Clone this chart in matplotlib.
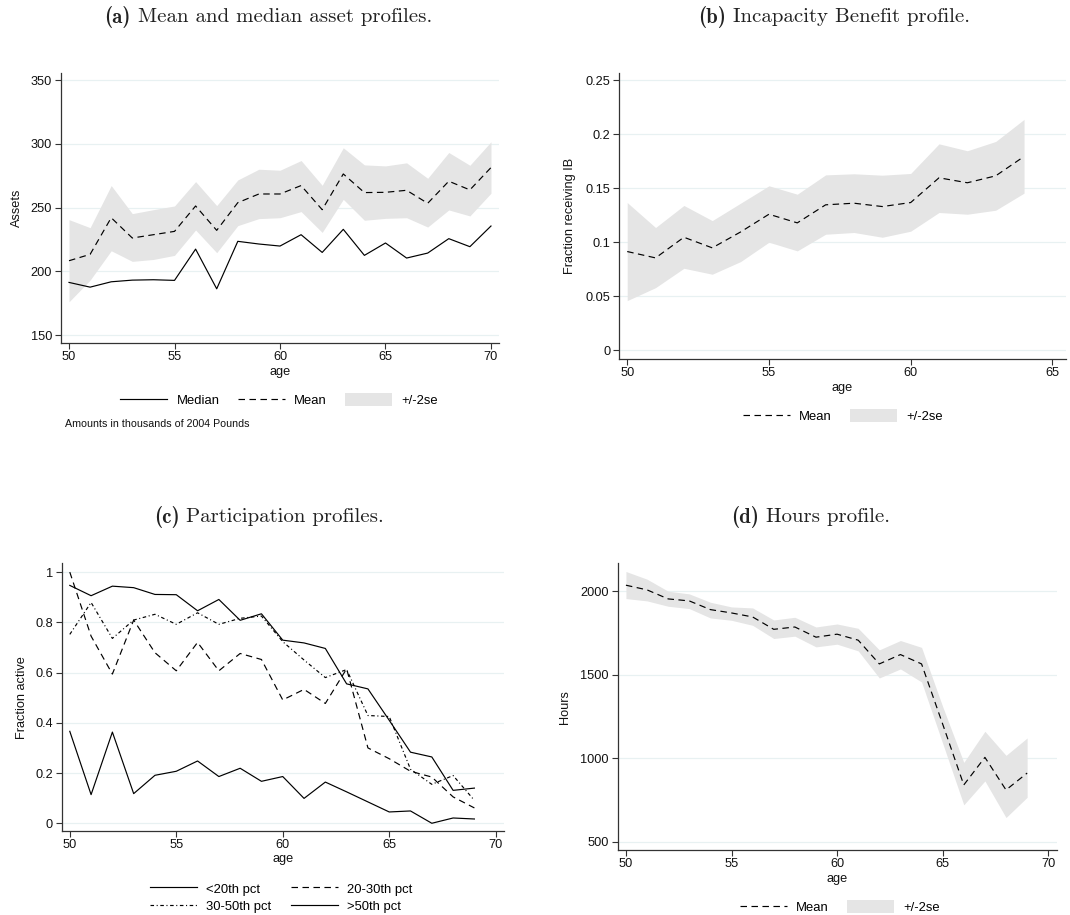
import matplotlib
matplotlib.use("Agg")
import matplotlib.pyplot as plt
from matplotlib.lines import Line2D
from matplotlib.patches import Patch

plt.rcParams['font.family'] = ['Liberation Sans', 'DejaVu Sans']
plt.rcParams['mathtext.fontset'] = 'cm'
plt.rcParams['axes.formatter.use_mathtext'] = False

# ---------------- data ----------------
ages_a = [50, 51, 52, 53, 54, 55, 56, 57, 58, 59, 60, 61, 62, 63, 64, 65, 66, 67, 68, 69, 70]
assets_median = [191.4, 187.7, 191.9, 193.2, 193.5, 193.0, 217.5, 186.4, 223.6, 221.5, 219.9,
                 228.8, 214.9, 233.0, 212.6, 222.3, 210.5, 214.4, 225.7, 219.4, 235.6]
assets_mean = [208.4, 213.4, 242.1, 226.2, 228.8, 231.4, 251.3, 232.2, 253.9, 260.7, 260.7,
               267.3, 248.4, 276.4, 261.8, 262.0, 263.6, 253.4, 270.7, 263.9, 281.4]
assets_upper = [240.6, 234.3, 267.3, 245.3, 248.4, 251.3, 270.4, 251.6, 271.7, 280.1, 279.3,
                286.9, 267.5, 296.9, 283.5, 282.7, 285.1, 273.0, 293.2, 283.2, 301.6]
assets_lower = [176.2, 193.2, 216.2, 207.9, 209.4, 212.6, 232.5, 214.7, 235.9, 241.4, 242.1,
                246.9, 230.6, 256.5, 240.1, 241.6, 242.1, 234.8, 248.2, 243.5, 261.3]

ages_b = [50, 51, 52, 53, 54, 55, 56, 57, 58, 59, 60, 61, 62, 63, 64]
ib_mean = [0.0914, 0.0855, 0.1046, 0.0948, 0.1095, 0.1259, 0.1179, 0.1346, 0.1361, 0.1330,
           0.1367, 0.1596, 0.1550, 0.1614, 0.1793]
ib_upper = [0.1367, 0.1136, 0.1340, 0.1200, 0.1361, 0.1522, 0.1444, 0.1623, 0.1633, 0.1620,
            0.1636, 0.1910, 0.1846, 0.1932, 0.2136]
ib_lower = [0.0460, 0.0580, 0.0759, 0.0704, 0.0821, 0.1000, 0.0920, 0.1074, 0.1090, 0.1046,
            0.1102, 0.1275, 0.1259, 0.1296, 0.1454]

ages_c = [50, 51, 52, 53, 54, 55, 56, 57, 58, 59, 60, 61, 62, 63, 64, 65, 66, 67, 68, 69]
part_lt20 = [0.366, 0.114, 0.363, 0.118, 0.191, 0.207, 0.248, 0.186, 0.219, 0.167,
             0.186, 0.099, 0.164, 0.125, 0.085, 0.045, 0.049, 0.000, 0.021, 0.017]
part_20_30 = [1.000, 0.745, 0.594, 0.809, 0.679, 0.607, 0.720, 0.607, 0.676, 0.652,
              0.491, 0.533, 0.477, 0.615, 0.300, 0.257, 0.207, 0.184, 0.105, 0.061]
part_30_50 = [0.752, 0.879, 0.736, 0.809, 0.832, 0.792, 0.838, 0.792, 0.816, 0.825,
              0.723, 0.650, 0.580, 0.612, 0.429, 0.425, 0.215, 0.155, 0.190, 0.091]
part_gt50 = [0.947, 0.906, 0.944, 0.938, 0.911, 0.910, 0.846, 0.891, 0.808, 0.834,
             0.729, 0.718, 0.696, 0.555, 0.535, 0.410, 0.283, 0.264, 0.131, 0.140]

ages_d = [50, 51, 52, 53, 54, 55, 56, 57, 58, 59, 60, 61, 62, 63, 64, 65, 66, 67, 68, 69]
hours_mean = [2036, 2008, 1954, 1942, 1890, 1870, 1846, 1772, 1786, 1725, 1743, 1707,
              1565, 1621, 1565, 1205, 841, 1006, 811, 912]
hours_upper = [2118, 2072, 2000, 1984, 1934, 1906, 1900, 1828, 1844, 1786, 1804, 1778,
               1649, 1705, 1664, 1310, 976, 1162, 1018, 1122]
hours_lower = [1956, 1942, 1910, 1896, 1840, 1826, 1796, 1717, 1731, 1667, 1683, 1643,
               1481, 1535, 1457, 1090, 722, 865, 646, 767]

xticks_a = [50, 55, 60, 65, 70]
yticks_a = [150, 200, 250, 300, 350]
xticks_b = [50, 55, 60, 65]
yticks_b = [0, 0.05, 0.1, 0.15, 0.2, 0.25]
yticklabels_b = ['0', '0.05', '0.1', '0.15', '0.2', '0.25']
yticks_c = [0, 0.2, 0.4, 0.6, 0.8, 1.0]
yticklabels_c = ['0', '0.2', '0.4', '0.6', '0.8', '1']
yticks_d = [500, 1000, 1500, 2000]

titles = [('(a)', 'Mean and median asset profiles.'),
          ('(b)', 'Incapacity Benefit profile.'),
          ('(c)', 'Participation profiles.'),
          ('(d)', 'Hours profile.')]

# ---------------- styling ----------------
W, H = 1070, 915
BAND = '#e5e5e5'
GRID = '#e8f1f2'
SPINE = '#333333'
LW = 0.85
DASH = (0, (5.5, 3.8))
DASHDOT = (0, (3.0, 2.2, 0.9, 2.2))
TICKFS = 9.2
LABFS = 9.2
LEGFS = 9.4

fig = plt.figure(figsize=(W / 100, H / 100), dpi=100)


def make_ax(left, top, right, bottom):
    return fig.add_axes([left / W, 1 - bottom / H, (right - left) / W, (bottom - top) / H])


def style(ax, xlim, ylim, xticks, yticks, yticklabels=None):
    ax.set_xlim(*xlim)
    ax.set_ylim(*ylim)
    ax.set_xticks(xticks)
    ax.set_yticks(yticks)
    if yticklabels is not None:
        ax.set_yticklabels(yticklabels)
    for s in ['top', 'right']:
        ax.spines[s].set_visible(False)
    for s in ['left', 'bottom']:
        ax.spines[s].set_color(SPINE)
        ax.spines[s].set_linewidth(0.9)
    ax.grid(axis='y', color=GRID, lw=0.9)
    ax.set_axisbelow(True)
    ax.tick_params(direction='out', length=4.3, width=0.8, colors=SPINE,
                   labelcolor='#111111', labelsize=TICKFS)
    ax.tick_params(axis='x', pad=1.5)
    ax.tick_params(axis='y', pad=2.0)


def labels(ax, xlab_y, ylab, ylab_x):
    ax.set_xlabel('age', fontsize=LABFS, color='#111111')
    ax.xaxis.label.set_verticalalignment('center')
    ax.xaxis.set_label_coords(0.5, xlab_y)
    ax.set_ylabel(ylab, fontsize=LABFS, color='#111111')
    ax.yaxis.label.set_verticalalignment('center')
    ax.yaxis.set_label_coords(ylab_x, 0.5)


def legend(handles, names, cx, cy, ncol, colsp=1.4):
    fig.legend(handles, names, loc='center', bbox_to_anchor=(cx / W, 1 - cy / H),
               bbox_transform=fig.transFigure, ncol=ncol, frameon=False,
               fontsize=LEGFS, handlelength=3.6, handleheight=1.2, handletextpad=0.7,
               columnspacing=colsp, labelspacing=0.25, borderpad=0, borderaxespad=0)


line_solid = Line2D([], [], color='black', lw=LW)
line_dash = Line2D([], [], color='black', lw=LW, linestyle=DASH)
line_dashdot = Line2D([], [], color='black', lw=LW, linestyle=DASHDOT)
band_patch = Patch(facecolor=BAND, edgecolor='none')

# ---------------- panel a ----------------
axa = make_ax(61, 73, 499, 343.3)
axa.fill_between(ages_a, assets_lower, assets_upper, color=BAND, lw=0, zorder=1)
axa.plot(ages_a, assets_median, color='black', lw=LW, zorder=3)
axa.plot(ages_a, assets_mean, color='black', lw=LW, linestyle=DASH, zorder=3)
style(axa, (49.62, 70.38), (143.7, 355.5), xticks_a, yticks_a)
labels(axa, -0.105, 'Assets', -0.100)
legend([line_solid, line_dash, band_patch], ['Median', 'Mean', '+/-2se'], 279, 400, 3)
fig.text(65 / W, 1 - 424 / H, 'Amounts in thousands of 2004 Pounds', fontsize=7.7,
         ha='left', va='center', color='#111111')

# ---------------- panel b ----------------
axb = make_ax(619, 72.7, 1066, 359)
axb.fill_between(ages_b, ib_lower, ib_upper, color=BAND, lw=0, zorder=1)
axb.plot(ages_b, ib_mean, color='black', lw=LW, linestyle=DASH, zorder=3)
style(axb, (49.71, 65.48), (-0.008, 0.2568), xticks_b, yticks_b, yticklabels_b)
labels(axb, -0.100, 'Fraction receiving IB', -0.109)
legend([line_dash, band_patch], ['Mean', '+/-2se'], 843, 416, 2)

# ---------------- panel c ----------------
axc = make_ax(61.7, 563.3, 504, 831.3)
axc.plot(ages_c, part_lt20, color='black', lw=LW, zorder=3)
axc.plot(ages_c, part_20_30, color='black', lw=LW, linestyle=DASH, zorder=3)
axc.plot(ages_c, part_30_50, color='black', lw=LW, linestyle=DASHDOT, zorder=3)
axc.plot(ages_c, part_gt50, color='black', lw=LW, zorder=3)
style(axc, (49.62, 70.39), (-0.032, 1.035), xticks_a, yticks_c, yticklabels_c)
labels(axc, -0.103, 'Fraction active', -0.0904)
# column-major fill: first column = <20th, 30-50th ; second = 20-30th, >50th
legend([line_solid, line_dashdot, line_dash, line_solid],
       ['<20th pct', '30-50th pct', '20-30th pct', '>50th pct'], 281, 897.5, 2, colsp=1.5)

# ---------------- panel d ----------------
axd = make_ax(617.7, 563.3, 1056.7, 850.3)
axd.fill_between(ages_d, hours_lower, hours_upper, color=BAND, lw=0, zorder=1)
axd.plot(ages_d, hours_mean, color='black', lw=LW, linestyle=DASH, zorder=3)
style(axd, (49.61, 70.4), (450, 2167), xticks_a, yticks_d)
labels(axd, -0.100, 'Hours', -0.120)
legend([line_dash, band_patch], ['Mean', '+/-2se'], 840, 907, 2)

# ---------------- titles (Computer Modern look) ----------------
TFS = 15.0
title_pos = [(268, 17), (834, 17), (269, 517), (811, 517)]
fig.canvas.draw()
renderer = fig.canvas.get_renderer()
for (lab, txt), (cx, cy) in zip(titles, title_pos):
    t1 = fig.text(0, 1 - cy / H, lab, fontfamily='cmb10', fontsize=TFS,
                  ha='left', va='center', color='#222222')
    t2 = fig.text(0, 1 - cy / H, '\u00a0' + txt, fontfamily='cmr10', fontsize=TFS,
                  ha='left', va='center', color='#222222')
    w1 = t1.get_window_extent(renderer).width
    w2 = t2.get_window_extent(renderer).width
    x0 = cx - (w1 + w2) / 2
    t1.set_x(x0 / W)
    t2.set_x((x0 + w1) / W)

fig.savefig('out.png', dpi=100)
